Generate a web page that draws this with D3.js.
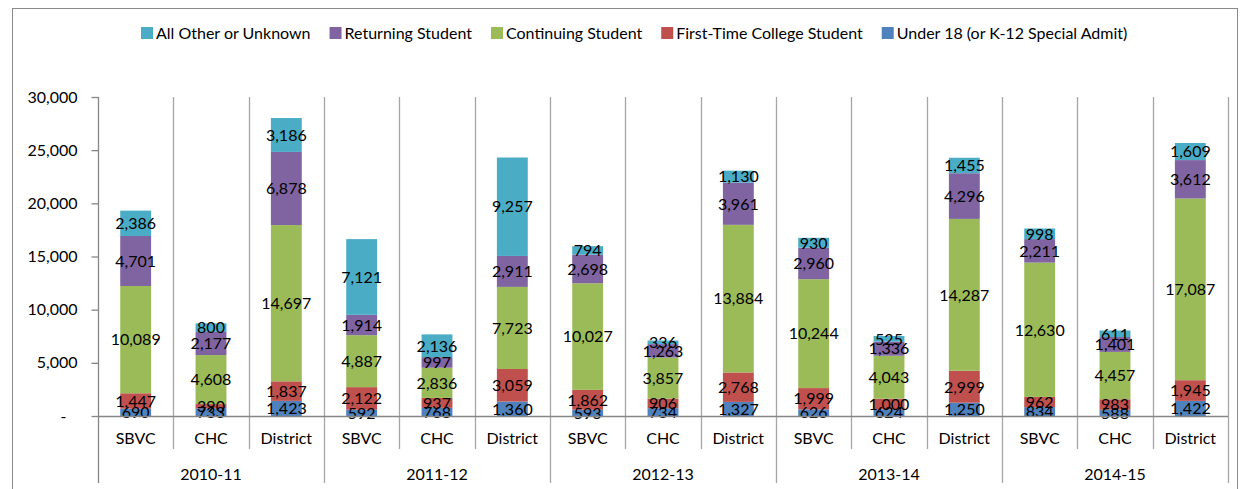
<!DOCTYPE html>
<html><head><meta charset="utf-8">
<script src="https://cdn.jsdelivr.net/npm/d3@7"></script>
<style>body{margin:0;background:#fff;} text{font-family:Lato,"Open Sans",sans-serif;fill:#000;}</style>
</head><body>
<svg id="c" width="1247" height="489"></svg>
<script>
const years = ["2010-11","2011-12","2012-13","2013-14","2014-15"];
const colleges = ["SBVC","CHC","District"];
const seriesNames = ["Under 18 (or K-12 Special Admit)","First-Time College Student","Continuing Student","Returning Student","All Other or Unknown"];
const seriesColors = ["#4F81BD","#C0504D","#9BBB59","#8064A2","#4BACC6"];
const under18   = [690,733,1423, 592,768,1360, 593,734,1327, 626,624,1250, 834,588,1422];
const firstTime = [1447,390,1837, 2122,937,3059, 1862,906,2768, 1999,1000,2999, 962,983,1945];
const continuing= [10089,4608,14697, 4887,2836,7723, 10027,3857,13884, 10244,4043,14287, 12630,4457,17087];
const returning = [4701,2177,6878, 1914,997,2911, 2698,1263,3961, 2960,1336,4296, 2211,1401,3612];
const allOther  = [2386,800,3186, 7121,2136,9257, 794,336,1130, 930,525,1455, 998,611,1609];
const yTicks = [0,5000,10000,15000,20000,25000,30000];

(function(){
const svg = d3.select("#c");
const FS="16px";
const pL=98, pR=1228, pT=97, pB=416;
const cats = [];
years.forEach(y=>colleges.forEach(c=>cats.push({year:y,college:c,key:y+"|"+c})));
const rows = cats.map((c,i)=>({key:c.key, s0:under18[i], s1:firstTime[i], s2:continuing[i], s3:returning[i], s4:allOther[i]}));
const x = d3.scaleBand().domain(cats.map(d=>d.key)).range([pL,pR]).paddingInner(0.59).paddingOuter(0.295);
const y = d3.scaleLinear().domain([0,30000]).range([pB,pT]);
const step = x.step();
const boundary = i => pL + i*step;

svg.append("rect").attr("x",12.5).attr("y",8.5).attr("width",1225).attr("height",500)
  .attr("fill","none").attr("stroke","#898989").attr("stroke-width",1);

const gcol="#a6a6a6";
for(let i=0;i<=15;i++){
  const xx=Math.round(boundary(i))+0.5;
  const isYear = i%3===0;
  svg.append("line").attr("x1",xx).attr("x2",xx).attr("y1",pT).attr("y2",isYear?483:449)
    .attr("stroke",i===0?"#868686":gcol).attr("stroke-width",1.3);
}

const stack = d3.stack().keys(["s0","s1","s2","s3","s4"]);
const layers = stack(rows);
const g = svg.append("g");
layers.forEach((L,si)=>{
  g.selectAll(null).data(L).enter().append("rect")
    .attr("x",d=>x(d.data.key)).attr("width",x.bandwidth())
    .attr("y",d=>y(d[1])).attr("height",d=>y(d[0])-y(d[1]))
    .attr("fill",seriesColors[si]);
});
const fmt = d3.format(",");
layers.forEach((L,si)=>{
  g.selectAll(null).data(L).enter().append("text")
    .attr("x",d=>x(d.data.key)+x.bandwidth()/2)
    .attr("y",d=>(y(d[0])+y(d[1]))/2).attr("dy","0.36em")
    .attr("text-anchor","middle").attr("font-size",FS)
    .text(d=>fmt(d[1]-d[0]));
});

const ya = svg.append("g").attr("transform",`translate(${pL+0.5},0)`)
  .call(d3.axisLeft(y).tickValues(yTicks).tickSize(7).tickPadding(14)
    .tickFormat(d=>d===0?"-":fmt(d)));
ya.select(".domain").remove();
ya.selectAll(".tick line").attr("stroke","#868686").attr("stroke-width",1.3);
ya.selectAll("text").attr("font-size",FS).attr("font-family","Lato,sans-serif").attr("fill","#000");
ya.selectAll(".tick").filter(d=>d===0).select("text").attr("dx","-11");

svg.append("line").attr("x1",pL).attr("x2",pR).attr("y1",Math.round(pB)+0.5).attr("y2",Math.round(pB)+0.5)
  .attr("stroke","#868686").attr("stroke-width",1.3);

cats.forEach((c,i)=>{
  svg.append("text").attr("x",x(c.key)+x.bandwidth()/2).attr("y",438).attr("dy","0.36em")
    .attr("text-anchor","middle").attr("font-size",FS).text(c.college);
});
years.forEach((yr,j)=>{
  svg.append("text").attr("x",(boundary(j*3)+boundary(j*3+3))/2).attr("y",474).attr("dy","0.36em")
    .attr("text-anchor","middle").attr("font-size",FS).text(yr);
});

const legOrder=[4,3,2,1,0];
let lx=141;
legOrder.forEach(si=>{
  svg.append("rect").attr("x",lx).attr("y",27).attr("width",12).attr("height",12).attr("fill",seriesColors[si]);
  const t=svg.append("text").attr("x",lx+15).attr("y",33).attr("dy","0.36em").attr("font-size",FS).text(seriesNames[si]);
  lx += 15 + t.node().getComputedTextLength() + 19;
});
})();
</script>
</body></html>
